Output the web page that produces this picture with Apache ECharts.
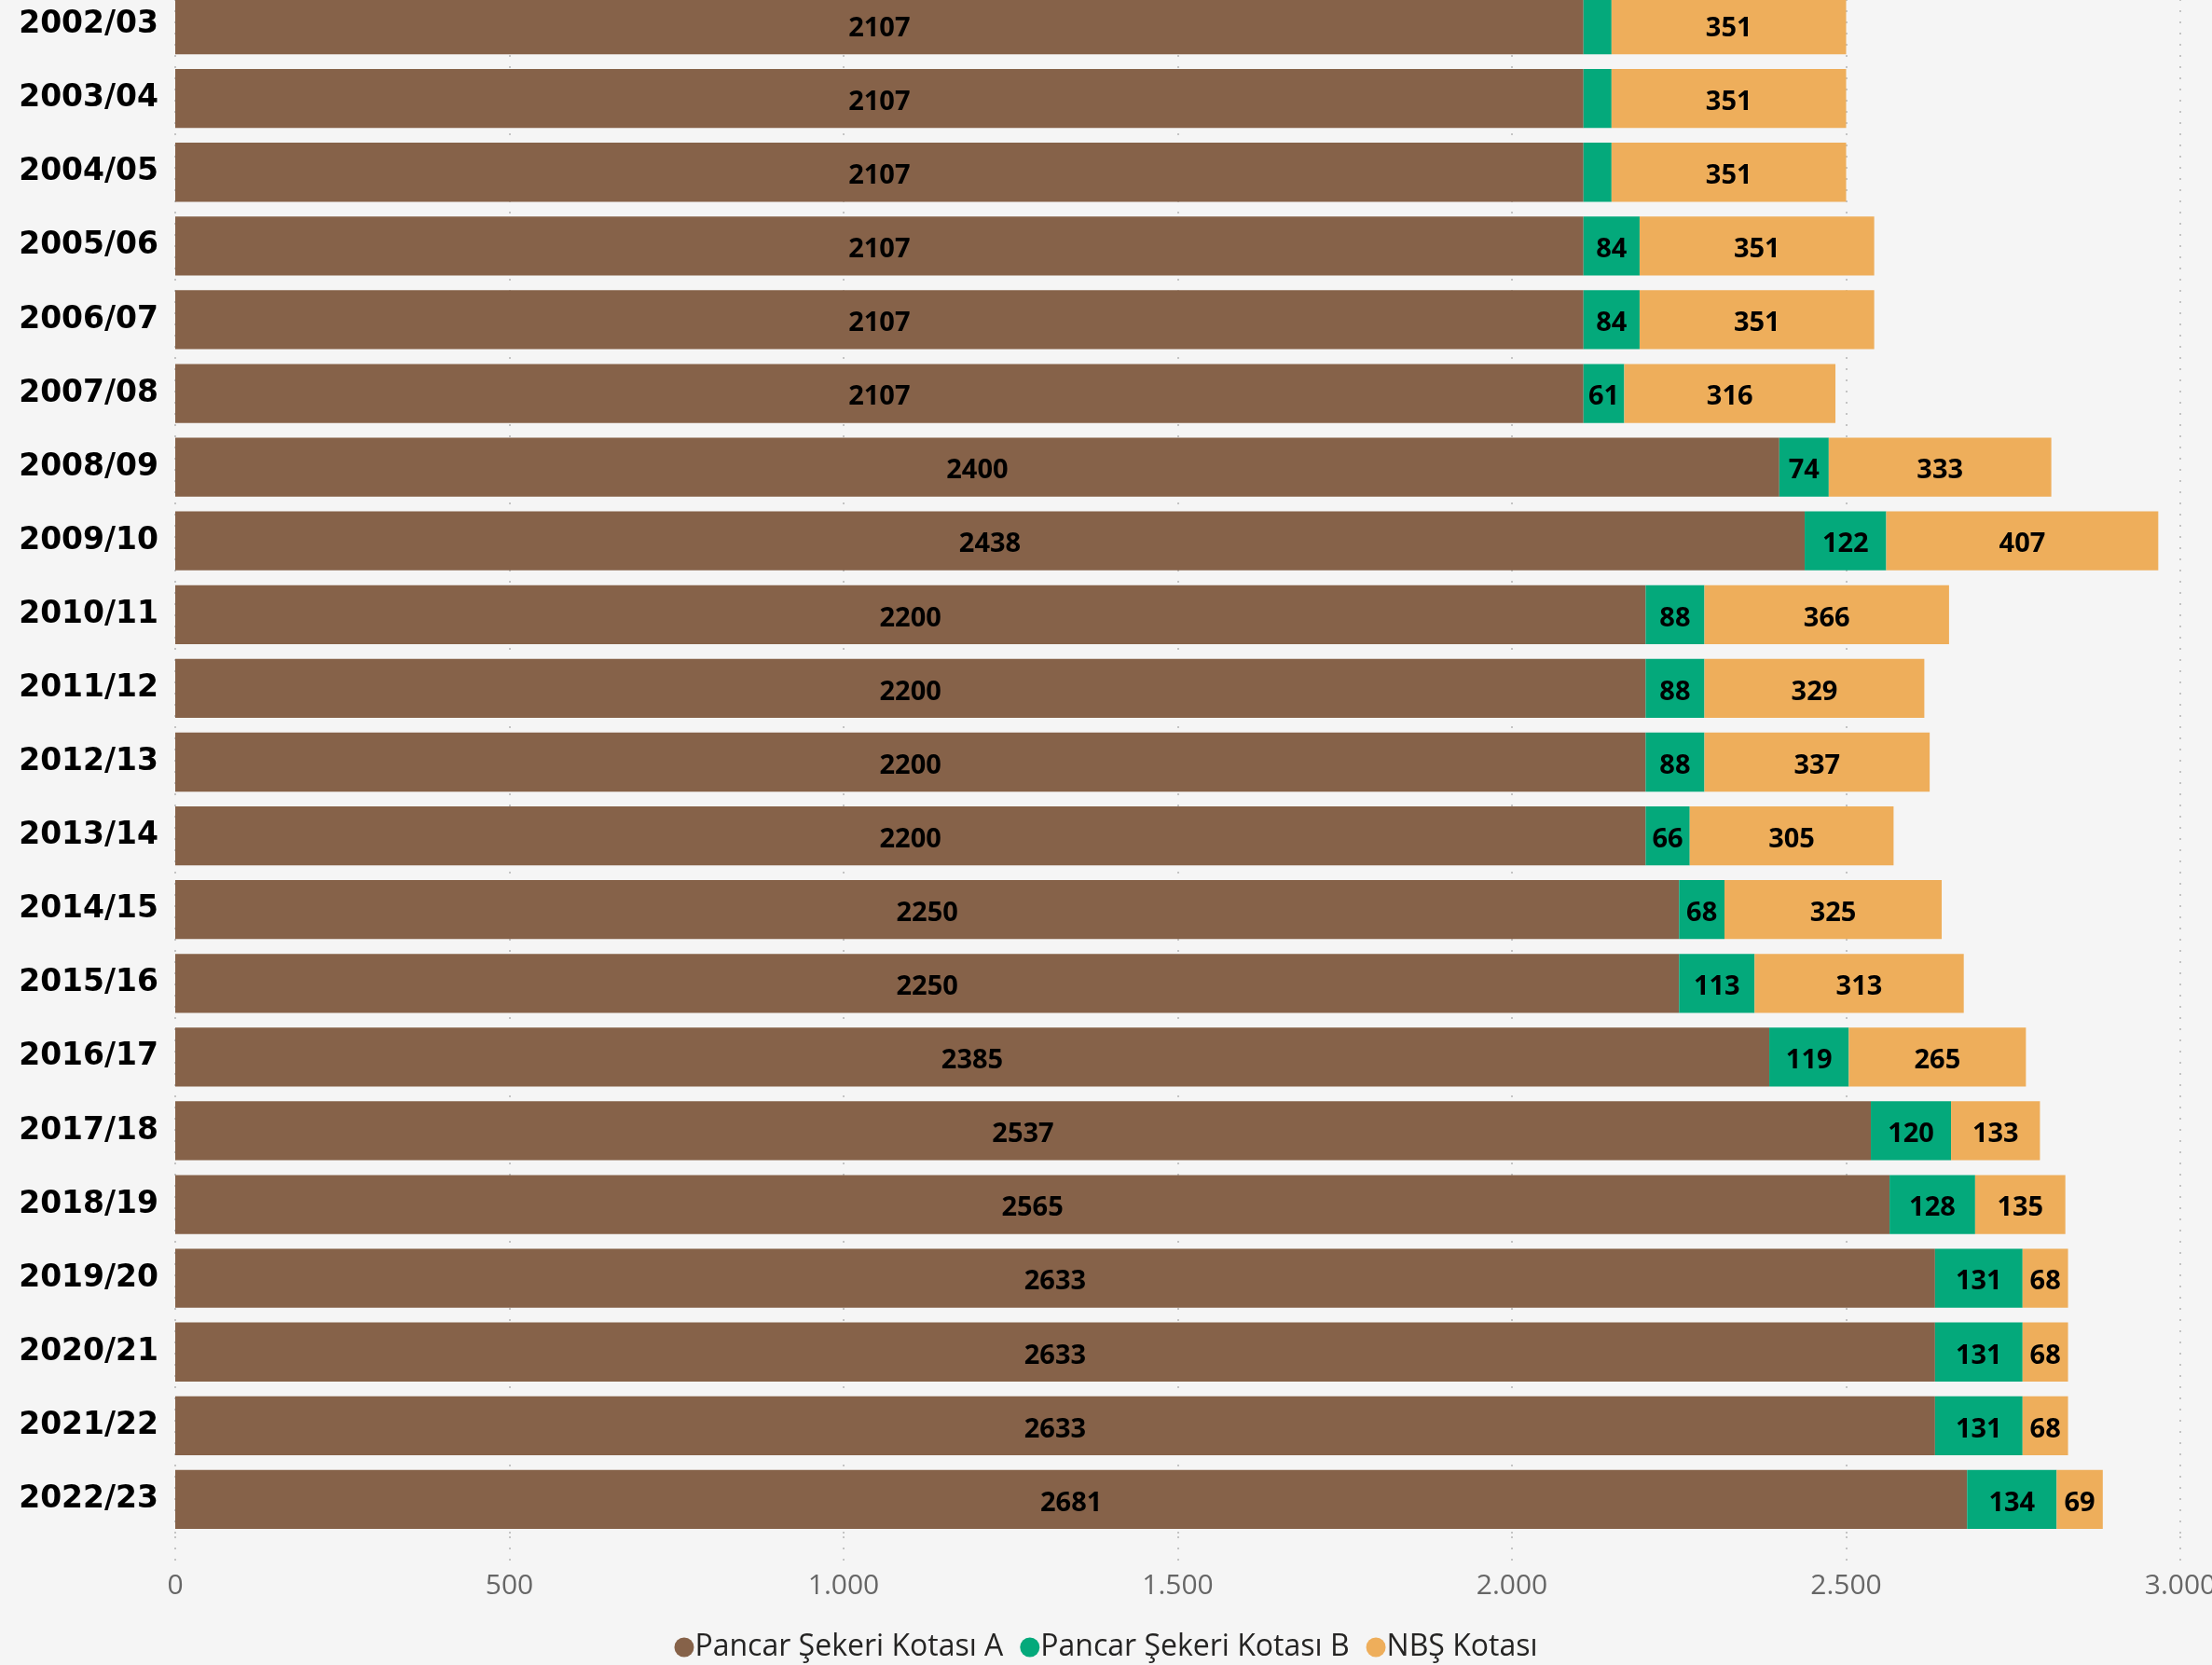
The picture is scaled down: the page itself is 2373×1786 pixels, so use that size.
<!DOCTYPE html>
<html>
<head>
<meta charset="utf-8">
<title>Şeker kotaları</title>
<script src="https://cdn.jsdelivr.net/npm/echarts@6/dist/echarts.min.js"></script>
<style>
  html, body { margin: 0; padding: 0; background: #f5f5f5; }
  #main { width: 2373px; height: 1786px; }
</style>
</head>
<body>
<div id="main"></div>
<script>
// pazarlama yılları (yukarıdan aşağı)
var years = ['2002/03', '2003/04', '2004/05', '2005/06', '2006/07', '2007/08', '2008/09',
  '2009/10', '2010/11', '2011/12', '2012/13', '2013/14', '2014/15', '2015/16', '2016/17',
  '2017/18', '2018/19', '2019/20', '2020/21', '2021/22', '2022/23'];

var kotaA = [2107, 2107, 2107, 2107, 2107, 2107, 2400, 2438, 2200, 2200, 2200, 2200, 2250,
  2250, 2385, 2537, 2565, 2633, 2633, 2633, 2681];
var kotaB = [42, 42, 42, 84, 84, 61, 74, 122, 88, 88, 88, 66, 68, 113, 119, 120, 128, 131,
  131, 131, 134];
var nbs = [351, 351, 351, 351, 351, 316, 333, 407, 366, 329, 337, 305, 325, 313, 265, 133,
  135, 68, 68, 68, 69];

var xTicks = [0, 500, 1000, 1500, 2000, 2500, 3000];

var seriesNames = ['Pancar Şekeri Kotası A', 'Pancar Şekeri Kotası B', 'NBŞ Kotası'];
var colors = ['#866249', '#04a97b', '#eeae5b'];

var chart = echarts.init(document.getElementById('main'));

// dar dilimlerde etiket gösterme
function labelFmt(p) {
  return p.value < 50 ? '' : String(p.value);
}

var dotted = { color: '#c4c4c4', width: 2, type: [2, 10] };

function makeSeries(name, values, color) {
  return {
    name: name,
    type: 'bar',
    stack: 'kota',
    barCategoryGap: '20%',
    data: values,
    itemStyle: { color: color },
    label: {
      show: true,
      position: 'inside',
      formatter: labelFmt,
      color: '#000',
      fontFamily: 'Open Sans',
      fontWeight: 'bold',
      fontSize: 29,
      offset: [0, 4]
    }
  };
}

chart.setOption({
  backgroundColor: '#f5f5f5',
  animation: false,
  color: colors,
  grid: {
    left: 188,
    right: 34,
    top: -13,
    bottom: 138,
    containLabel: false,
    outerBoundsMode: 'none'
  },
  legend: {
    bottom: -2,
    left: 'center',
    icon: 'circle',
    itemWidth: 21,
    itemHeight: 21,
    itemGap: 18,
    textStyle: {
      color: '#252423',
      fontFamily: 'Open Sans',
      fontSize: 32,
      padding: [0, 0, 0, -4]
    },
    data: seriesNames
  },
  xAxis: {
    type: 'value',
    min: 0,
    max: 3000,
    interval: 500,
    axisLine: { show: false },
    axisTick: { show: true, length: 26, lineStyle: dotted },
    splitLine: { show: true, lineStyle: dotted },
    axisLabel: {
      margin: 38,
      color: '#666',
      fontFamily: 'Open Sans',
      fontSize: 30,
      customValues: xTicks,
      formatter: function (v) {
        return v.toString().replace(/\B(?=(\d{3})+(?!\d))/g, '.');
      }
    }
  },
  yAxis: {
    type: 'category',
    inverse: true,
    data: years,
    axisLine: { show: false },
    axisTick: { show: false },
    axisLabel: {
      margin: 18,
      color: '#000',
      fontFamily: 'DejaVu Sans',
      fontWeight: 'bold',
      fontSize: 33,
      padding: [10, 0, 0, 0]
    }
  },
  series: [
    makeSeries(seriesNames[0], kotaA, colors[0]),
    makeSeries(seriesNames[1], kotaB, colors[1]),
    makeSeries(seriesNames[2], nbs, colors[2])
  ]
});
</script>
</body>
</html>
